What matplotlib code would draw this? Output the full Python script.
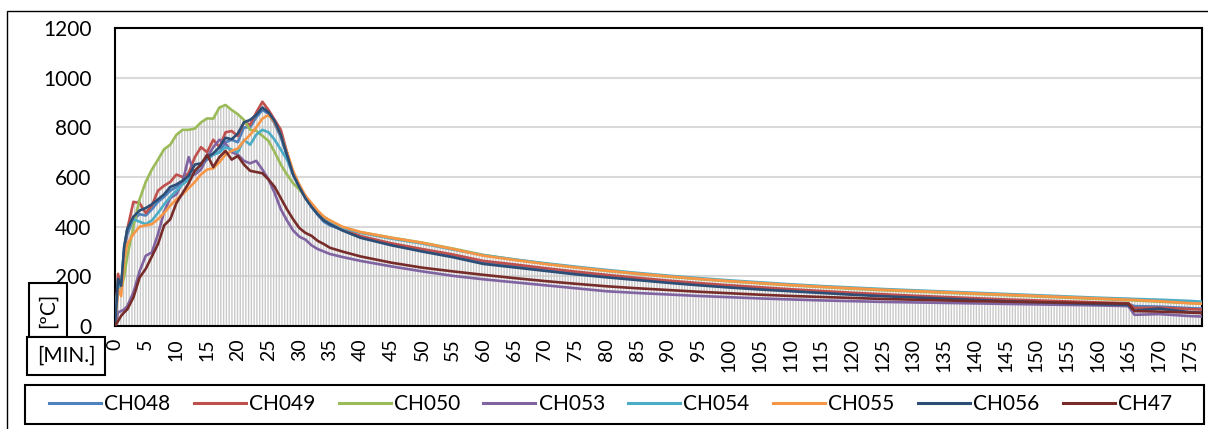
import numpy as np
import matplotlib
matplotlib.use('Agg')
import matplotlib.pyplot as plt
from matplotlib.patches import Rectangle

plt.rcParams['font.family'] = ['Lato', 'DejaVu Sans']
plt.rcParams['hatch.linewidth'] = 1.0

# time in minutes (dense at the start, sparse in the cooling tail)
minutes = [0, 0.5, 1, 1.5, 2] + list(range(3, 36)) + [37, 40] + list(range(45, 166, 5)) + [166, 170, 175, 177]

ch048 = [0, 170, 150, 300, 370, 430, 450, 445, 470, 500, 520, 545, 560, 575, 590, 620, 650, 670, 690, 700, 740, 750, 740, 800, 800, 840, 870, 855, 815, 760, 685, 610, 560, 515, 480, 448, 420, 405,
         388, 358, 328, 305, 282, 256, 242, 228, 214, 201, 190, 179, 169, 160, 152, 144, 137, 130, 124, 118, 113, 108, 103, 99, 95, 91, 88, 80, 78, 72, 70]
ch049 = [0, 210, 150, 300, 390, 500, 495, 455, 485, 545, 565, 580, 610, 600, 615, 680, 720, 700, 750, 720, 780, 785, 765, 820, 810, 860, 903, 870, 830, 790, 700, 615, 565, 520, 490, 460, 435, 420,
         392, 362, 333, 310, 288, 262, 248, 233, 219, 206, 194, 183, 173, 164, 156, 148, 141, 134, 128, 122, 117, 112, 107, 103, 99, 95, 92, 72, 74, 68, 66]
ch050 = [0, 180, 150, 200, 280, 400, 510, 580, 630, 670, 712, 730, 770, 790, 790, 795, 820, 836, 835, 880, 890, 870, 853, 830, 790, 786, 766, 745, 700, 650, 610, 575, 550, 520, 490, 460, 440, 425,
         398, 378, 356, 336, 312, 286, 268, 251, 236, 222, 210, 199, 189, 180, 172, 164, 157, 150, 144, 139, 134, 129, 124, 119, 114, 109, 104, 103, 98, 92, 90]
ch053 = [0, 55, 60, 67, 80, 135, 220, 283, 296, 370, 460, 515, 530, 580, 680, 610, 630, 680, 720, 750, 735, 700, 690, 665, 655, 665, 630, 590, 535, 470, 425, 385, 360, 348, 325, 310, 300, 290,
         278, 262, 240, 220, 202, 188, 176, 164, 152, 140, 133, 127, 121, 116, 111, 107, 103, 100, 97, 95, 93, 91, 89, 87, 85, 83, 80, 45, 48, 40, 38]
ch054 = [0, 180, 150, 320, 390, 430, 420, 410, 425, 455, 490, 520, 545, 570, 590, 620, 650, 680, 690, 700, 720, 710, 700, 750, 730, 770, 790, 780, 750, 710, 670, 610, 565, 520, 485, 455, 430, 415,
         395, 375, 352, 332, 308, 285, 268, 253, 239, 226, 214, 203, 193, 184, 176, 168, 161, 155, 149, 144, 139, 134, 129, 124, 119, 114, 110, 109, 106, 101, 98]
ch055 = [0, 150, 120, 270, 330, 370, 400, 405, 410, 430, 455, 485, 510, 530, 555, 580, 610, 630, 635, 660, 690, 705, 715, 745, 770, 800, 835, 850, 820, 770, 700, 625, 570, 525, 495, 465, 440, 425,
         400, 378, 355, 335, 310, 283, 266, 250, 236, 223, 211, 200, 190, 181, 173, 165, 158, 152, 146, 141, 136, 131, 126, 121, 116, 111, 106, 105, 100, 92, 90]
ch056 = [0, 189, 162, 320, 390, 440, 465, 475, 490, 510, 530, 560, 570, 585, 605, 650, 655, 680, 695, 720, 758, 752, 775, 820, 830, 850, 880, 860, 825, 770, 690, 610, 560, 515, 480, 450, 425, 410,
         385, 355, 325, 300, 277, 250, 236, 222, 208, 196, 185, 174, 164, 155, 147, 140, 133, 126, 120, 115, 110, 105, 100, 96, 92, 88, 85, 62, 70, 56, 54]
ch47 = [0, 20, 41, 55, 67, 115, 195, 230, 280, 330, 405, 430, 495, 535, 575, 625, 650, 690, 640, 680, 705, 670, 685, 650, 625, 620, 615, 590, 560, 515, 470, 430, 395, 375, 363, 343, 330, 315,
        300, 280, 255, 235, 220, 206, 193, 181, 170, 160, 152, 145, 138, 132, 126, 121, 117, 113, 109, 106, 103, 100, 98, 96, 94, 92, 90, 60, 58, 54, 52]

names = ['CH048', 'CH049', 'CH050', 'CH053', 'CH054', 'CH055', 'CH056', 'CH47']
series = [ch048, ch049, ch050, ch053, ch054, ch055, ch056, ch47]
colors = ['#4F81BD', '#C0504D', '#9BBB59', '#8064A2', '#4BACC6', '#F79646', '#2C4D75', '#772C2A']

W, H = 1208, 429
fig = plt.figure(figsize=(W / 100, H / 100), dpi=100)
ax = fig.add_axes([115 / W, 1 - 326 / H, (1202 - 115) / W, (326 - 28) / H])

# drop lines under the highest curve
envelope = np.max(np.array(series), axis=0)
ax.fill_between(minutes, 0, envelope, facecolor='none', edgecolor='#C9C9C9',
                hatch='||||||', linewidth=0, zorder=1)

for name, vals, c in zip(names, series, colors):
    ax.plot(minutes, vals, color=c, lw=1.9, label=name, zorder=3)

ax.set_xlim(0, 177)
ax.set_ylim(0, 1200)
ax.set_yticks(range(0, 1201, 200))
ax.set_xticks(range(0, 176, 5))
ax.set_xticklabels([str(v) for v in range(0, 176, 5)], rotation=90)
ax.tick_params(axis='y', length=0, pad=17, labelsize=15)
ax.tick_params(axis='x', length=0, pad=9, labelsize=14)
ax.grid(axis='y', color='#D9D9D9', lw=1.5, zorder=0)
ax.set_axisbelow(True)
for sp in ax.spines.values():
    sp.set_color('black')
    sp.set_linewidth(1.5)

# outer chart border
fig.patches.append(Rectangle((7 / W, -0.1), 1.2, 1 - 11 / H + 0.1, transform=fig.transFigure,
                             fill=False, ec='black', lw=1.0))

box = dict(boxstyle='square,pad=0.45', fc='white', ec='black', lw=1.5)
fig.text(48 / W, 1 - 310 / H, '[ºC]', rotation=90, ha='center', va='center', fontsize=15, bbox=box)
fig.text(66 / W, 1 - 356 / H, '[MIN.]', ha='center', va='center', fontsize=15, bbox=box)

# legend box
fig.patches.append(Rectangle((25 / W, 1 - 424 / H), (1204 - 25) / W, 39 / H, transform=fig.transFigure,
                             fill=False, ec='black', lw=1.5))
leg = fig.legend(loc='center', ncol=8, mode='expand',
                 bbox_to_anchor=(49 / W, 1 - 424 / H, (1172 - 49) / W, 39 / H),
                 fontsize=15, handlelength=2.5, handletextpad=0.15,
                 borderpad=0, borderaxespad=0, frameon=False)
for l in leg.get_lines():
    l.set_linewidth(2.2)

fig.savefig('out.png', dpi=100)
